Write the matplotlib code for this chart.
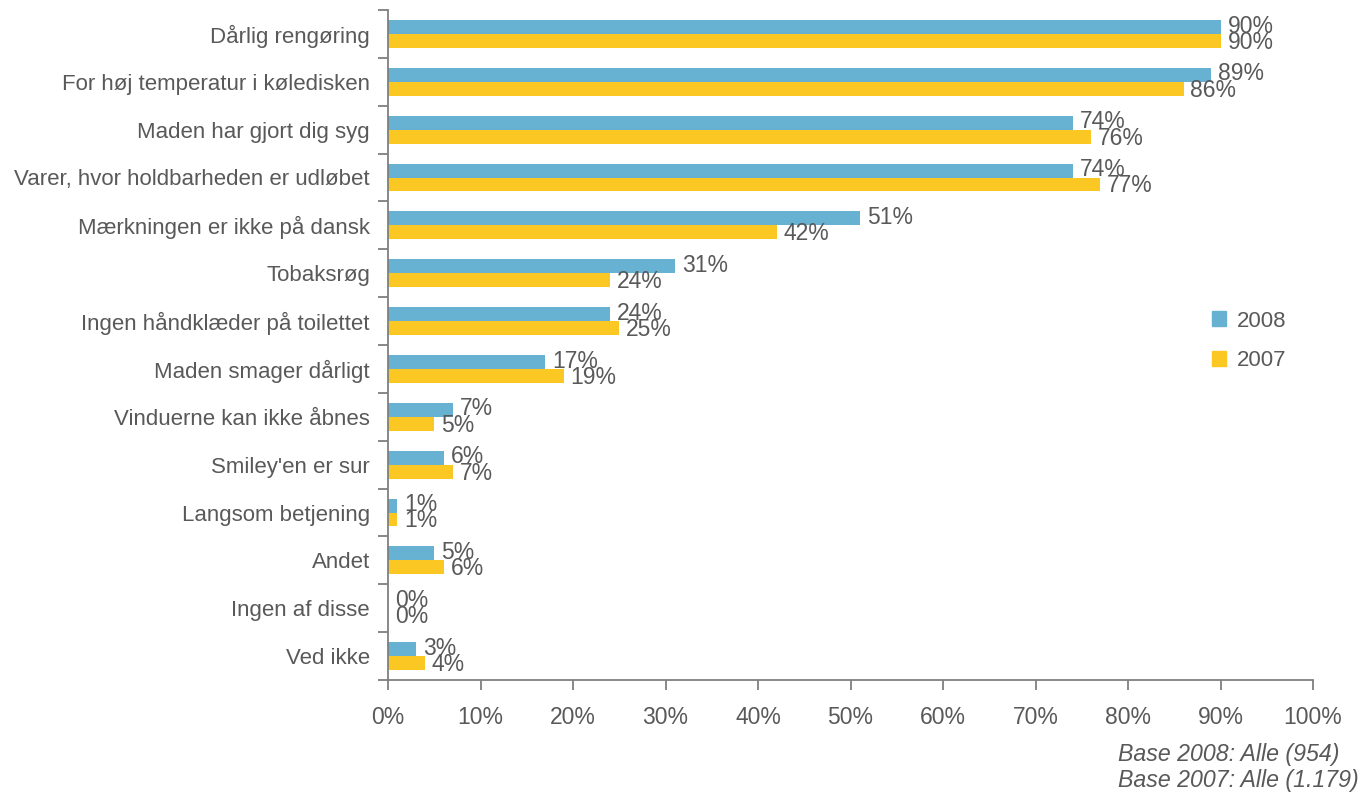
import numpy as np
import matplotlib
matplotlib.use('Agg')
import matplotlib.pyplot as plt
from matplotlib.patches import Patch

plt.rcParams['font.family'] = ['Liberation Sans', 'DejaVu Sans']

categories = ['Dårlig rengøring', 'For høj temperatur i køledisken', 'Maden har gjort dig syg',
              'Varer, hvor holdbarheden er udløbet', 'Mærkningen er ikke på dansk', 'Tobaksrøg',
              'Ingen håndklæder på toilettet', 'Maden smager dårligt', 'Vinduerne kan ikke åbnes',
              "Smiley'en er sur", 'Langsom betjening', 'Andet', 'Ingen af disse', 'Ved ikke']
vals_2008 = [90, 89, 74, 74, 51, 31, 24, 17, 7, 6, 1, 5, 0, 3]
vals_2007 = [90, 86, 76, 77, 42, 24, 25, 19, 5, 7, 1, 6, 0, 4]
xticks = list(range(0, 101, 10))

blue = '#67B1D2'
yellow = '#FAC723'
grey = '#595959'
spine_col = '#7F7F7F'

fig = plt.figure(figsize=(13.72, 7.94), dpi=100)
ax = fig.add_axes([388 / 1372, 1 - 680 / 794, (1313 - 388) / 1372, 670 / 794])

n = len(categories)
y = np.arange(n)
h = 0.29
ax.barh(y - h / 2, vals_2008, height=h, color=blue, label='2008')
ax.barh(y + h / 2, vals_2007, height=h, color=yellow, label='2007')

# value labels just right of each bar end
for i in range(n):
    ax.annotate(f'{vals_2008[i]}%', (vals_2008[i], y[i] - h / 2 - 0.02), xytext=(5, 0),
                textcoords='offset points', va='center', ha='left', fontsize=16.5, color=grey)
    ax.annotate(f'{vals_2007[i]}%', (vals_2007[i], y[i] + h / 2 + 0.03), xytext=(5, 0),
                textcoords='offset points', va='center', ha='left', fontsize=16.5, color=grey)

ax.set_ylim(n - 0.5, -0.5)
ax.set_xlim(0, 100)
ax.set_yticks(y)
ax.set_yticklabels(categories)
ax.set_yticks(np.arange(n + 1) - 0.5, minor=True)
ax.tick_params(axis='y', which='major', length=0, pad=13, labelsize=16, labelcolor=grey)
ax.tick_params(axis='y', which='minor', length=7, width=1.3, color=spine_col)
ax.set_xticks(xticks)
ax.set_xticklabels([f'{t}%' for t in xticks])
ax.tick_params(axis='x', length=7, width=1.3, color=spine_col, pad=12, labelsize=16.5, labelcolor=grey)

for s in ['top', 'right']:
    ax.spines[s].set_visible(False)
for s in ['left', 'bottom']:
    ax.spines[s].set_color(spine_col)
    ax.spines[s].set_linewidth(1.3)

handles = [Patch(color=blue, label='2008'), Patch(color=yellow, label='2007')]
fig.legend(handles=handles, loc='center left', bbox_to_anchor=(1192 / 1372, 1 - 341 / 794),
           frameon=False, fontsize=16, labelcolor=grey, handlelength=0.65, handleheight=0.65,
           handletextpad=0.45, labelspacing=0.85)

fig.text(1118 / 1372, 1 - 755 / 794, 'Base 2008: Alle (954)', ha='left', va='center',
         fontsize=16.7, style='italic', color=grey)
fig.text(1118 / 1372, 1 - 781 / 794, 'Base 2007: Alle (1.179)', ha='left', va='center',
         fontsize=16.7, style='italic', color=grey)

fig.savefig('out.png', dpi=100)
